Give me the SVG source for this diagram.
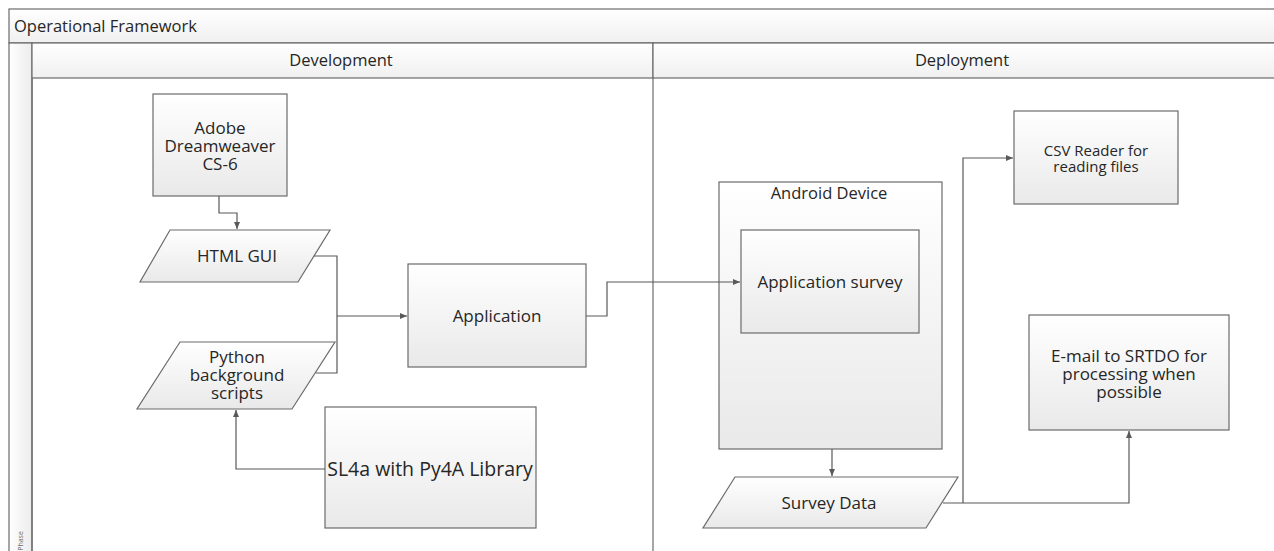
<svg xmlns="http://www.w3.org/2000/svg" width="1274" height="551" viewBox="0 0 1274 551">
<style>
text{font-family:"Open Sans","Liberation Sans",sans-serif;fill:#262626;}
.box{fill:url(#g);stroke:#6b6b6b;stroke-width:1.2;}
.lane{fill:url(#hg);stroke:#6b6b6b;stroke-width:1.2;}
.c{fill:none;stroke:#595959;stroke-width:1.2;}
.t{font-size:17px;text-anchor:middle;}
.h{font-size:16.5px;text-anchor:middle;}
</style>
<defs>
<linearGradient id="g" x1="0" y1="0" x2="0" y2="1"><stop offset="0" stop-color="#ffffff"/><stop offset="1" stop-color="#e9e9e9"/></linearGradient>
<linearGradient id="hg" x1="0" y1="0" x2="0" y2="1"><stop offset="0" stop-color="#ffffff"/><stop offset="1" stop-color="#f0f0f0"/></linearGradient>
<linearGradient id="vg" x1="0" y1="0" x2="1" y2="0"><stop offset="0" stop-color="#ffffff"/><stop offset="1" stop-color="#ececec"/></linearGradient>
<marker id="a" markerWidth="8" markerHeight="8" refX="7" refY="4" orient="auto" markerUnits="userSpaceOnUse"><path d="M0,1 L7,4 L0,7 Z" fill="#595959"/></marker>
</defs>
<rect width="1274" height="551" fill="#ffffff"/>
<g id="frame">
<rect x="9" y="9" width="1275" height="34" class="lane"/>
<text x="14" y="32" style="font-size:16.5px">Operational Framework</text>
<rect x="9" y="43" width="23" height="520" fill="url(#vg)" stroke="#6b6b6b" stroke-width="1.2"/>
<text transform="translate(23,541) rotate(-90)" style="font-size:7px;fill:#666;text-anchor:middle">Phase</text>
</g>
<g id="lane-development">
<rect x="32" y="43" width="621" height="35" class="lane"/>
<line x1="32" y1="78" x2="32" y2="560" stroke="#6b6b6b" stroke-width="1.2"/>
<text x="341" y="66" class="h">Development</text>
</g>
<g id="lane-deployment">
<rect x="653" y="43" width="630" height="35" class="lane"/>
<line x1="653" y1="78" x2="653" y2="560" stroke="#6b6b6b" stroke-width="1.2"/>
<text x="962" y="66" class="h">Deployment</text>
</g>
<g id="adobe">
<rect x="153" y="94" width="134" height="102" class="box"/>
<text class="t"><tspan x="220" y="134">Adobe</tspan><tspan x="220" y="152">Dreamweaver</tspan><tspan x="220" y="170">CS-6</tspan></text>
</g>
<g id="html-gui">
<polygon points="170,230 330,230 298,282 140,282" class="box"/>
<text x="237" y="262" class="t">HTML GUI</text>
</g>
<g id="python">
<polygon points="180,342 335,342 292,409 137,409" class="box"/>
<text class="t"><tspan x="237" y="363">Python</tspan><tspan x="237" y="381">background</tspan><tspan x="237" y="399">scripts</tspan></text>
</g>
<g id="sl4a">
<rect x="325" y="407" width="211" height="121" class="box"/>
<text x="430" y="476" style="font-size:19.5px;text-anchor:middle">SL4a with Py4A Library</text>
</g>
<g id="application">
<rect x="408" y="264" width="178" height="103" class="box"/>
<text x="497" y="322" class="t">Application</text>
</g>
<g id="android-device">
<rect x="719" y="182" width="223" height="267" class="box"/>
<text x="829" y="199" class="h">Android Device</text>
</g>
<g id="application-survey">
<rect x="741" y="230" width="178" height="103" class="box"/>
<text x="830" y="288" class="t">Application survey</text>
</g>
<g id="survey-data">
<polygon points="735,477 958,477 926,528 703,528" class="box"/>
<text x="829" y="509" class="t">Survey Data</text>
</g>
<g id="csv-reader">
<rect x="1014" y="111" width="164" height="93" class="box"/>
<text style="font-size:15px;text-anchor:middle"><tspan x="1096" y="156">CSV Reader for</tspan><tspan x="1096" y="172">reading files</tspan></text>
</g>
<g id="email">
<rect x="1029" y="315" width="200" height="115" class="box"/>
<text class="t"><tspan x="1129" y="362">E-mail to SRTDO for</tspan><tspan x="1129" y="380">processing when</tspan><tspan x="1129" y="398">possible</tspan></text>
</g>
<g id="connectors">
<path class="c" d="M219,196 V213 H237 V229" marker-end="url(#a)"/>
<path class="c" d="M314,256 H337 V373 H316"/>
<path class="c" d="M337,316 H407" marker-end="url(#a)"/>
<path class="c" d="M325,469 H236 V410" marker-end="url(#a)"/>
<path class="c" d="M586,316 H607 V282 H740" marker-end="url(#a)"/>
<path class="c" d="M832,449 V476" marker-end="url(#a)"/>
<path class="c" d="M943,503 H1129 V431" marker-end="url(#a)"/>
<path class="c" d="M963,503 V158 H1013" marker-end="url(#a)"/>
</g>
</svg>
